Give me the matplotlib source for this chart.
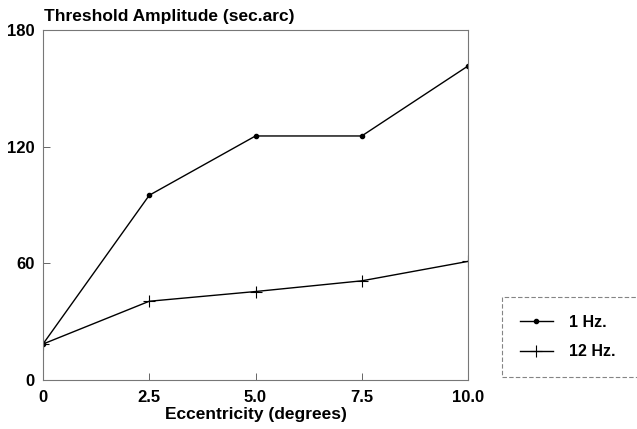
import numpy as np
import matplotlib.pyplot as plt

plt.rcParams['font.family'] = ['Liberation Sans', 'DejaVu Sans']
plt.rcParams['font.weight'] = 'bold'

eccentricity = [0, 2.5, 5.0, 7.5, 10.0]
hz1 = [18.5, 95, 125.5, 125.5, 161.5]
hz12 = [18.5, 40.5, 45.5, 51, 61]
xtick_labels = ['0', '2.5', '5.0', '7.5', '10.0']
yticks = [0, 60, 120, 180]

W, H = 637, 429
fig = plt.figure(figsize=(W / 100, H / 100), dpi=100)
ax = fig.add_axes([43 / W, 1 - 380 / H, (468 - 43) / W, (380 - 30) / H])

ax.plot(eccentricity, hz1, color='black', lw=1.0, marker='o', ms=3,
        label='1 Hz.')
ax.plot(eccentricity, hz12, color='black', lw=1.0, marker='+', ms=8,
        mew=0.8, label='12 Hz.')

ax.set_xlim(0, 10)
ax.set_ylim(0, 180)
ax.set_xticks(eccentricity)
ax.set_xticklabels(xtick_labels)
ax.set_yticks(yticks)
ax.tick_params(direction='in', length=5, width=0.7, color='#666666',
               labelsize=12)
ax.tick_params(axis='x', pad=7)
ax.tick_params(axis='y', pad=6)
for lab in ax.get_xticklabels() + ax.get_yticklabels():
    lab.set_fontweight('bold')
for s in ax.spines.values():
    s.set_color('#777777')
    s.set_linewidth(0.8)

ax.set_xlabel('Eccentricity (degrees)', fontsize=12.5, fontweight='bold',
              labelpad=2)
fig.text(44 / W, 1 - 21 / H, 'Threshold Amplitude (sec.arc)', fontsize=12.5,
         fontweight='bold', va='baseline', ha='left')

leg = ax.legend(loc='center left',
                bbox_to_anchor=(502 / W, 1 - 377 / H, 150 / W, 80 / H),
                bbox_transform=fig.transFigure, frameon=True, fancybox=False,
                fontsize=11.5, handlelength=2.1, handletextpad=1.0,
                labelspacing=0.9, borderpad=1.1, borderaxespad=0,
                mode='expand')
fr = leg.get_frame()
fr.set_linestyle((0, (4, 2)))
fr.set_edgecolor('#666666')
fr.set_linewidth(0.8)

fig.savefig('out.png', dpi=100)
